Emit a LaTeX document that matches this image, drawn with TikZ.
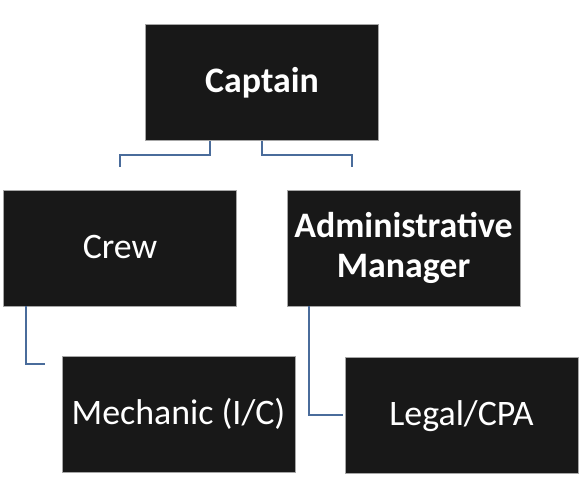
\documentclass[tikz,border=0pt]{standalone}
\usepackage{fontspec}
\setmainfont{Carlito}
\usepackage{tikz}
\usetikzlibrary{positioning}
\definecolor{boxfill}{HTML}{181818}
\definecolor{boxline}{HTML}{A6A6A6}
\definecolor{linkblue}{HTML}{4A6C9B}

\tikzset{
  rolebox/.style={rectangle, draw=boxline, line width=0.8bp, fill=boxfill,
    text=white, minimum width=233bp, minimum height=116bp, inner sep=0pt,
    font=\fontsize{36}{45}\selectfont, align=center},
  oneline/.style={text height=20.5bp, text depth=0pt},
  link/.style={draw=linkblue, line width=1.3bp}
}

\begin{document}
\begin{tikzpicture}[x=1bp,y=1bp]
\useasboundingbox (0,0) rectangle (585,-480);
\node[rolebox, oneline, font=\bfseries\fontsize{36}{45}\selectfont] (captain) at (262,-82.5) {Captain};
\node[rolebox, oneline] (crew) at (120,-248) {Crew};
\node[rolebox, font=\bfseries\fontsize{36}{44}\selectfont] (admin) at (403.5,-248) {\raisebox{-4bp}{Administrative}\\Manager};
\node[rolebox, oneline] (mech) at (178.5,-414.5) {Mechanic (I/C)};
\node[rolebox, oneline] (legal) at (461.5,-415) {Legal/CPA};
% free ends
\coordinate (crewtip) at ([yshift=23bp]crew.north);
\coordinate (admintip) at ([xshift=-51.5bp,yshift=23bp]admin.north);
\coordinate (mechtip) at ([xshift=-17bp,yshift=50.5bp]mech.west);
\coordinate (legaltip) at ([xshift=-2bp]legal.west);
\draw[link] ([xshift=-52bp]captain.south) -- ++(0,-14) -| (crewtip);
\draw[link] (captain.south) -- ++(0,-14) -| (admintip);
\draw[link] ([xshift=-94bp]crew.south) |- (mechtip);
\draw[link] ([xshift=-94.5bp]admin.south) |- (legaltip);
\end{tikzpicture}
\end{document}
